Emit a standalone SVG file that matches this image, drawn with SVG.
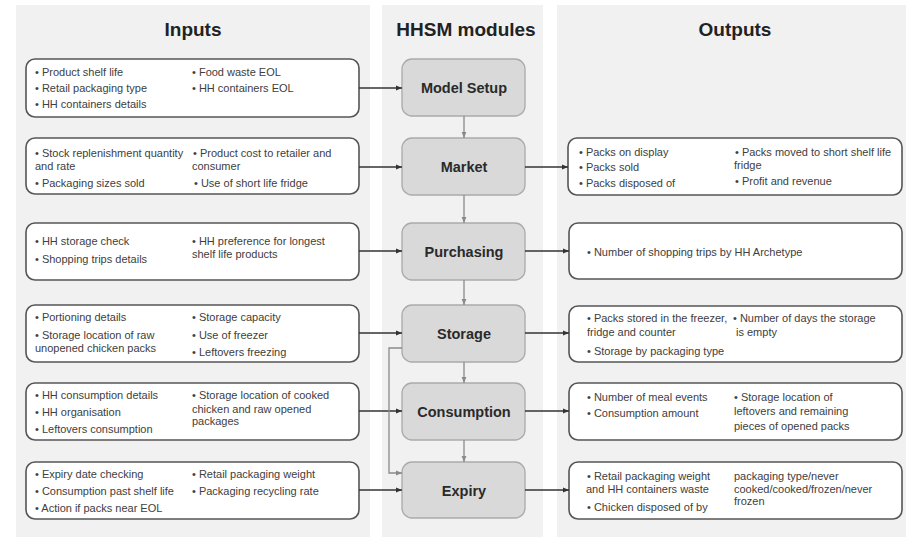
<svg xmlns="http://www.w3.org/2000/svg" width="907" height="539" viewBox="0 0 907 539">
<defs>
<style>
.panel{fill:#f1f1f1;}
.hdr{font-family:"Liberation Sans",Arial,sans-serif;font-size:19px;font-weight:bold;fill:#222;text-anchor:middle;}
.box{fill:#fff;stroke:#555;stroke-width:1.6;}
.mod{fill:#d9d9d9;stroke:#aaa;stroke-width:1.3;}
.mt{font-family:"Liberation Sans",Arial,sans-serif;font-size:14.5px;font-weight:bold;fill:#2a2a2a;text-anchor:middle;}
.t{font-family:"Liberation Sans",Arial,sans-serif;font-size:11px;fill:#404040;}
.dk{fill:none;stroke:#333;stroke-width:1.3;}
.gr{fill:none;stroke:#8a8a8a;stroke-width:1.3;}
</style>
<marker id="ad" viewBox="0 0 10 10" refX="10" refY="5" markerWidth="6" markerHeight="6" markerUnits="userSpaceOnUse" orient="auto"><path d="M0,1 L10,5 L0,9 z" fill="#333"/></marker>
<marker id="ag" viewBox="0 0 10 10" refX="10" refY="5" markerWidth="6" markerHeight="6" markerUnits="userSpaceOnUse" orient="auto"><path d="M0,1 L10,5 L0,9 z" fill="#8a8a8a"/></marker>
</defs>
<rect width="907" height="539" fill="#fff"/>
<rect class="panel" x="16" y="5" width="354" height="532"/>
<rect class="panel" x="382" y="5" width="161" height="532"/>
<rect class="panel" x="557" y="5" width="349" height="532"/>
<text class="hdr" x="193" y="36">Inputs</text>
<text class="hdr" x="466" y="36">HHSM modules</text>
<text class="hdr" x="735" y="36">Outputs</text>

<g id="in-setup">
<rect class="box" x="26" y="59" width="333" height="58" rx="9"/>
<text class="t" x="35" y="76">• Product shelf life</text>
<text class="t" x="35" y="92">• Retail packaging type</text>
<text class="t" x="35" y="108">• HH containers details</text>
<text class="t" x="192" y="76">• Food waste EOL</text>
<text class="t" x="192" y="92">• HH containers EOL</text>
</g>
<g id="in-market">
<rect class="box" x="26" y="138" width="333" height="56" rx="9"/>
<text class="t" x="35" y="157">• Stock replenishment quantity</text>
<text class="t" x="35" y="170">and rate</text>
<text class="t" x="35" y="187">• Packaging sizes sold</text>
<text class="t" x="193" y="157">• Product cost to retailer and</text>
<text class="t" x="192" y="170">consumer</text>
<text class="t" x="194" y="187">• Use of short life fridge</text>
</g>
<g id="in-purchasing">
<rect class="box" x="26" y="223" width="333" height="57" rx="9"/>
<text class="t" x="35" y="245">• HH storage check</text>
<text class="t" x="35" y="263">• Shopping trips details</text>
<text class="t" x="192" y="245">• HH preference for longest</text>
<text class="t" x="192" y="258">shelf life products</text>
</g>
<g id="in-storage">
<rect class="box" x="26" y="305" width="333" height="57" rx="9"/>
<text class="t" x="35" y="321">• Portioning details</text>
<text class="t" x="35" y="339">• Storage location of raw</text>
<text class="t" x="35" y="351.5">unopened chicken packs</text>
<text class="t" x="192" y="321">• Storage capacity</text>
<text class="t" x="192" y="339">• Use of freezer</text>
<text class="t" x="192" y="356">• Leftovers freezing</text>
</g>
<g id="in-consumption">
<rect class="box" x="26" y="383" width="333" height="57" rx="9"/>
<text class="t" x="35" y="399">• HH consumption details</text>
<text class="t" x="35" y="416">• HH organisation</text>
<text class="t" x="35" y="433">• Leftovers consumption</text>
<text class="t" x="192" y="399">• Storage location of cooked</text>
<text class="t" x="192" y="412.5">chicken and raw opened</text>
<text class="t" x="192" y="425">packages</text>
</g>
<g id="in-expiry">
<rect class="box" x="26" y="462" width="333" height="57" rx="9"/>
<text class="t" x="35" y="478">• Expiry date checking</text>
<text class="t" x="35" y="495">• Consumption past shelf life</text>
<text class="t" x="35" y="512">• Action if packs near EOL</text>
<text class="t" x="192" y="478">• Retail packaging weight</text>
<text class="t" x="192" y="495">• Packaging recycling rate</text>
</g>

<g id="m-setup"><rect class="mod" x="402" y="59" width="123" height="57" rx="10"/><text class="mt" x="464" y="93">Model Setup</text></g>
<g id="m-market"><rect class="mod" x="402" y="138" width="123" height="57" rx="10"/><text class="mt" x="464" y="172">Market</text></g>
<g id="m-purchasing"><rect class="mod" x="402" y="223" width="123" height="57" rx="10"/><text class="mt" x="464" y="257">Purchasing</text></g>
<g id="m-storage"><rect class="mod" x="402" y="305" width="123" height="57" rx="10"/><text class="mt" x="464" y="339">Storage</text></g>
<g id="m-consumption"><rect class="mod" x="402" y="383" width="123" height="57" rx="10"/><text class="mt" x="464" y="417">Consumption</text></g>
<g id="m-expiry"><rect class="mod" x="402" y="462" width="123" height="56" rx="10"/><text class="mt" x="464" y="496">Expiry</text></g>

<g id="out-market">
<rect class="box" x="568" y="138" width="334" height="57" rx="9"/>
<text class="t" x="579" y="155.5">• Packs on display</text>
<text class="t" x="579" y="171">• Packs sold</text>
<text class="t" x="579" y="187">• Packs disposed of</text>
<text class="t" x="735" y="155.5">• Packs moved to short shelf life</text>
<text class="t" x="734" y="168.5">fridge</text>
<text class="t" x="735" y="184.5">• Profit and revenue</text>
</g>
<g id="out-purchasing">
<rect class="box" x="569" y="223" width="333" height="56" rx="9"/>
<text class="t" x="587" y="255.5">• Number of shopping trips by HH Archetype</text>
</g>
<g id="out-storage">
<rect class="box" x="569" y="306" width="333" height="56" rx="9"/>
<text class="t" x="587" y="322">• Packs stored in the freezer,</text>
<text class="t" x="587" y="336">fridge and counter</text>
<text class="t" x="587" y="354.5">• Storage by packaging type</text>
<text class="t" x="733" y="322">• Number of days the storage</text>
<text class="t" x="736" y="336">is empty</text>
</g>
<g id="out-consumption">
<rect class="box" x="569" y="383" width="333" height="57" rx="9"/>
<text class="t" x="587" y="400.5">• Number of meal events</text>
<text class="t" x="587" y="417">• Consumption amount</text>
<text class="t" x="734" y="400.5">• Storage location of</text>
<text class="t" x="734" y="415">leftovers and remaining</text>
<text class="t" x="734" y="430">pieces of opened packs</text>
</g>
<g id="out-expiry">
<rect class="box" x="569" y="462" width="333" height="57" rx="9"/>
<text class="t" x="587" y="480">• Retail packaging weight</text>
<text class="t" x="586" y="492.5">and HH containers waste</text>
<text class="t" x="587" y="511">• Chicken disposed of by</text>
<text class="t" x="734" y="480">packaging type/never</text>
<text class="t" x="734" y="492.5">cooked/cooked/frozen/never</text>
<text class="t" x="734" y="505">frozen</text>
</g>

<g id="connectors">
<line class="dk" x1="359" y1="88" x2="402" y2="88" marker-end="url(#ad)"/>
<line class="dk" x1="359" y1="167" x2="402" y2="167" marker-end="url(#ad)"/>
<line class="dk" x1="359" y1="251" x2="402" y2="251" marker-end="url(#ad)"/>
<line class="dk" x1="359" y1="333" x2="402" y2="333" marker-end="url(#ad)"/>
<line class="dk" x1="359" y1="411" x2="402" y2="411" marker-end="url(#ad)"/>
<line class="dk" x1="359" y1="490" x2="402" y2="490" marker-end="url(#ad)"/>
<line class="dk" x1="525" y1="167" x2="568" y2="167" marker-end="url(#ad)"/>
<line class="dk" x1="525" y1="251" x2="569" y2="251" marker-end="url(#ad)"/>
<line class="dk" x1="525" y1="333" x2="569" y2="333" marker-end="url(#ad)"/>
<line class="dk" x1="525" y1="411" x2="569" y2="411" marker-end="url(#ad)"/>
<line class="dk" x1="525" y1="490" x2="569" y2="490" marker-end="url(#ad)"/>
<line class="gr" x1="464" y1="116" x2="464" y2="138" marker-end="url(#ag)"/>
<line class="gr" x1="464" y1="195" x2="464" y2="223" marker-end="url(#ag)"/>
<line class="gr" x1="464" y1="280" x2="464" y2="305" marker-end="url(#ag)"/>
<line class="gr" x1="464" y1="362" x2="464" y2="383" marker-end="url(#ag)"/>
<line class="gr" x1="464" y1="440" x2="464" y2="462" marker-end="url(#ag)"/>
<polyline class="gr" points="402,348 389,348 389,473 402,473" marker-end="url(#ag)"/>
</g>
</svg>
